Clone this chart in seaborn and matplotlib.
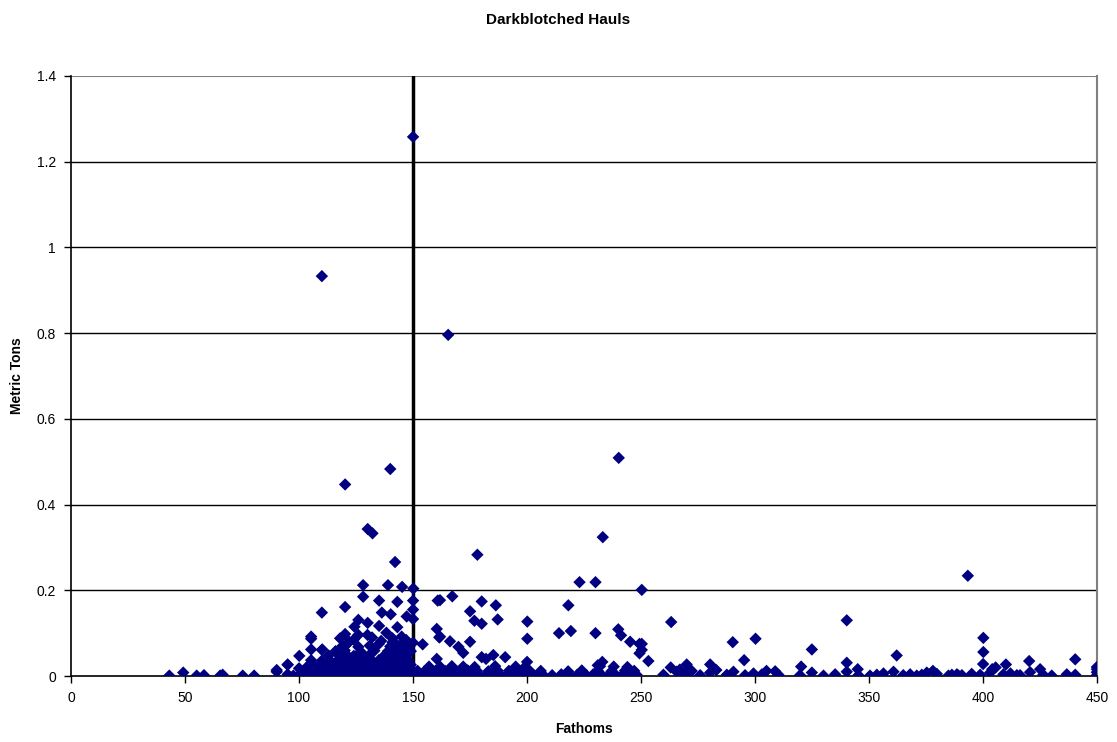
import numpy as np
import pandas as pd
import matplotlib
matplotlib.use("Agg")
import matplotlib.pyplot as plt
import seaborn as sns

# -------------------------
# DATA
# -------------------------

# big outliers
outlier_fathoms = [150, 110, 165.4, 120.2, 140, 240.2, 130.1, 132.2, 233.2, 178.2, 142.1, 393.3]
outlier_tons = [1.258, 0.933, 0.796, 0.447, 0.483, 0.509, 0.343, 0.333, 0.324, 0.283, 0.266, 0.234]

# shallow hauls (< 100 fm)
shallow_fathoms = [43.1, 49.2, 55.1, 58.3, 65.4, 66.5, 75.3, 80.3, 90.2, 90.2, 95.0, 95.0, 95.0, 97.5]
shallow_tons = [0.001, 0.008, 0.001, 0.002, 0.001, 0.003, 0.001, 0.001, 0.010, 0.014, 0.027, 0.026, 0.004, 0.001]

# 100-150 fm, upper scatter
upper_fathoms = [128.1, 139.0, 145.2, 150.1, 128.1, 135.1, 143.1, 150.0, 110.0, 120.2, 136.3,
                 140.2, 147.2, 150.0, 150.0, 126.0, 130.1, 124.3, 135.1, 143.1, 138.3, 105.3,
                 120.2, 126.0, 130.0, 121.3, 105.3, 110.0, 100.1, 105.3, 135.0, 145.0, 150.0,
                 105.3, 110.2, 105.3, 100.0, 118.0, 124.0, 132.0, 141.0, 147.0]
upper_tons = [0.212, 0.212, 0.208, 0.204, 0.185, 0.176, 0.173, 0.176, 0.148, 0.161, 0.148,
              0.144, 0.139, 0.155, 0.133, 0.131, 0.124, 0.115, 0.117, 0.114, 0.101, 0.092,
              0.098, 0.096, 0.096, 0.076, 0.062, 0.061, 0.047, 0.087, 0.075, 0.092, 0.078,
              0.030, 0.062, 0.037, 0.018, 0.088, 0.085, 0.090, 0.088, 0.084]

# 100-150 fm, dense core near zero
core_fathoms = [100, 103, 106, 108, 111, 113, 115, 117, 119, 121, 123, 125, 127, 129, 131, 133,
                135, 137, 139, 141, 143, 145, 147, 149,
                102, 105, 109, 112, 114, 116, 118, 120, 122, 124, 126, 128, 130, 132, 134, 136,
                138, 140, 142, 144, 146, 148,
                104, 108, 112, 115, 118, 120, 123, 125, 128, 131, 133, 136, 139, 141, 143, 145,
                147, 149,
                110, 114, 117, 119, 122, 126, 129, 132, 135, 138, 140, 142, 144, 146, 148,
                113, 118, 121, 124, 128, 131, 137, 141, 143, 145, 147,
                116, 120, 127, 133, 139, 142, 144, 146, 149,
                119, 126, 131, 140, 143, 147,
                122, 136, 141, 146]
core_tons = [0.002, 0.001, 0.003, 0.001, 0.002, 0.001, 0.003, 0.002, 0.001, 0.002, 0.003, 0.001,
             0.002, 0.001, 0.003, 0.002, 0.001, 0.002, 0.003, 0.001, 0.002, 0.001, 0.003, 0.002,
             0.012, 0.010, 0.013, 0.011, 0.012, 0.014, 0.010, 0.012, 0.013, 0.011, 0.012, 0.014,
             0.010, 0.012, 0.013, 0.011, 0.012, 0.014, 0.010, 0.012, 0.013, 0.011,
             0.024, 0.022, 0.025, 0.023, 0.024, 0.026, 0.022, 0.024, 0.025, 0.023, 0.024, 0.026,
             0.022, 0.024, 0.025, 0.023, 0.024, 0.026,
             0.036, 0.034, 0.037, 0.035, 0.036, 0.038, 0.034, 0.036, 0.037, 0.035, 0.036, 0.038,
             0.034, 0.036, 0.037,
             0.048, 0.046, 0.049, 0.047, 0.048, 0.050, 0.046, 0.048, 0.049, 0.047, 0.048,
             0.058, 0.060, 0.057, 0.059, 0.058, 0.061, 0.057, 0.059, 0.058,
             0.070, 0.068, 0.071, 0.069, 0.072, 0.070,
             0.080, 0.082, 0.079, 0.081]

# 150-255 fm
mid_fathoms = [161.8, 167.2, 180.1, 186.3, 175.0, 218.1, 176.9, 180.1, 187.1, 200.1, 200.1,
               214.0, 219.2, 230.0, 240.0, 241.2, 245.2, 249.3, 249.3, 166.2, 175.0, 169.9,
               172.0, 180.1, 185.2, 182.0, 190.4, 200.0, 233.0, 231.0, 161.8, 160.8, 160.4,
               161.5, 154.2, 160.4, 223.0, 230.0, 250.3, 250.3, 250.3, 253.2,
               151, 153, 156, 158, 161, 163, 166, 168, 171, 173, 176, 179, 182, 185, 188, 191,
               194, 197, 200, 203, 207, 211, 215, 219, 222, 226, 229, 233, 236, 239, 242, 245, 248,
               152, 155, 160, 164, 169, 174, 178, 183, 187, 192, 196, 201, 206, 218, 224, 231,
               237, 243, 247,
               157, 162, 167, 172, 177, 186, 195, 199, 232, 238, 244]
mid_tons = [0.177, 0.186, 0.174, 0.165, 0.151, 0.165, 0.129, 0.122, 0.132, 0.127, 0.087,
            0.100, 0.105, 0.100, 0.109, 0.095, 0.080, 0.075, 0.053, 0.081, 0.080, 0.068,
            0.054, 0.044, 0.049, 0.040, 0.044, 0.033, 0.033, 0.025, 0.092, 0.176, 0.110,
            0.090, 0.074, 0.040, 0.219, 0.219, 0.201, 0.075, 0.061, 0.035,
            0.003, 0.002, 0.004, 0.001, 0.003, 0.002, 0.004, 0.001, 0.003, 0.002, 0.004, 0.001,
            0.003, 0.002, 0.004, 0.001, 0.003, 0.002, 0.004, 0.001, 0.003, 0.002, 0.004, 0.001,
            0.003, 0.002, 0.004, 0.001, 0.003, 0.002, 0.004, 0.001, 0.003,
            0.012, 0.011, 0.013, 0.012, 0.011, 0.013, 0.012, 0.011, 0.013, 0.012, 0.011, 0.013,
            0.012, 0.011, 0.013, 0.012, 0.011, 0.013, 0.012,
            0.022, 0.021, 0.023, 0.022, 0.021, 0.023, 0.022, 0.021, 0.023, 0.022, 0.021]

# deeper than 255 fm
deep_fathoms = [263.2, 290.2, 300.2, 324.9, 295.2, 280.3, 270.0, 263.0, 320.2, 340.2, 400.1,
                400.1, 362.1, 340.2, 400.0, 410.0, 404.0, 420.2, 440.4, 425.0, 405.5,
                259.8, 265.6, 269.3, 272.2, 275.9, 280.3, 287.6, 290.5, 295.6, 299.3, 303.0,
                308.8, 310.2, 319.7, 324.9, 330.0, 335.1, 340.2, 345.3, 350.4, 353.4, 356.3,
                360.7, 365.0, 368.0, 370.9, 373.1, 375.3, 379.7, 384.8, 388.5, 390.7, 395.0,
                398.7, 403.1, 414.8, 386.3, 389.2, 408.9, 416.2, 420.6, 426.4, 430.1, 436.7,
                440.4, 449.9, 449.9, 449.9, 449.9, 267.0, 283.0, 305.0, 345.0, 378.0, 412.0]
deep_tons = [0.126, 0.079, 0.087, 0.062, 0.037, 0.027, 0.027, 0.020, 0.022, 0.130, 0.089,
             0.056, 0.048, 0.031, 0.028, 0.027, 0.016, 0.035, 0.039, 0.016, 0.020,
             0.003, 0.010, 0.004, 0.012, 0.002, 0.008, 0.003, 0.010, 0.002, 0.006, 0.004,
             0.011, 0.003, 0.002, 0.008, 0.001, 0.004, 0.010, 0.002, 0.001, 0.003, 0.006,
             0.010, 0.002, 0.004, 0.001, 0.003, 0.008, 0.005, 0.001, 0.004, 0.002, 0.005,
             0.003, 0.008, 0.002, 0.003, 0.001, 0.004, 0.002, 0.009, 0.003, 0.001, 0.004,
             0.003, 0.002, 0.009, 0.016, 0.021, 0.015, 0.014, 0.012, 0.016, 0.012, 0.006]

df = pd.DataFrame({
    "Fathoms": outlier_fathoms + shallow_fathoms + upper_fathoms + core_fathoms + mid_fathoms + deep_fathoms,
    "Metric Tons": outlier_tons + shallow_tons + upper_tons + core_tons + mid_tons + deep_tons,
})

# -------------------------
# PLOT
# -------------------------
sns.set_style("white")
plt.rcParams["font.family"] = ["Liberation Sans", "DejaVu Sans"]
plt.rcParams["text.color"] = "black"
plt.rcParams["axes.labelcolor"] = "black"
plt.rcParams["xtick.color"] = "black"
plt.rcParams["ytick.color"] = "black"

fig = plt.figure(figsize=(11.17, 7.42), dpi=100)
ax = fig.add_axes([0.0636, 0.0889, 0.9186, 0.8087])

# horizontal grid lines
for yv in np.arange(0.2, 1.3, 0.2):
    ax.axhline(yv, color="black", lw=1, zorder=1)
ax.axhline(1.4, color="#808080", lw=1.5, zorder=1)

# 150 fathom line
ax.plot([150, 150], [0, 1.4], color="black", lw=2.5, zorder=2)

sns.scatterplot(data=df, x="Fathoms", y="Metric Tons", marker="D", s=40,
                color="#000080", edgecolor="none", linewidth=0, ax=ax, zorder=3)

ax.set_xlim(0, 450)
ax.set_ylim(0, 1.4)
ax.set_xticks(range(0, 451, 50))
ax.set_yticks([0, 0.2, 0.4, 0.6, 0.8, 1.0, 1.2, 1.4])
ax.set_yticklabels(["0", "0.2", "0.4", "0.6", "0.8", "1", "1.2", "1.4"])
ax.tick_params(axis="both", direction="out", length=5, width=1, colors="black",
               labelsize=10, pad=6, bottom=True, left=True)

for side in ["left", "bottom"]:
    ax.spines[side].set_color("black")
    ax.spines[side].set_linewidth(1.2)
ax.spines["top"].set_visible(False)
ax.spines["right"].set_color("#808080")
ax.spines["right"].set_linewidth(1.5)

ax.set_xlabel("Fathoms", fontsize=10, fontweight="bold", labelpad=12)
ax.set_ylabel("Metric Tons", fontsize=10, fontweight="bold", labelpad=9)
fig.suptitle("Darkblotched Hauls", fontsize=11, fontweight="bold", y=0.982)

plt.savefig("out.png", dpi=100)
plt.close()
